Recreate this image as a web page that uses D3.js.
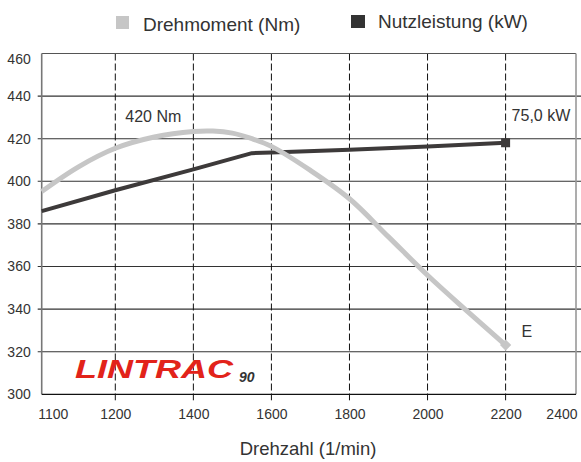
<!DOCTYPE html>
<html>
  <head>
    <meta charset="utf-8">
    <script src="https://cdn.jsdelivr.net/npm/d3@7"></script>
    <style>
      body { margin: 0; background: #fff; }
      svg { display: block; font-family: "Liberation Sans", Arial, Helvetica, sans-serif; }
      .tick text { fill: #333; font-size: 14px; }
      .domain { display: none; }
    </style>
  </head>
  <body>
    <div id="chart"></div>
    <script>
      // rpm values and curves
      var torqueRpm = [1100, 1150, 1200, 1300, 1400, 1450, 1500, 1550, 1600, 1700, 1800, 1900, 2000, 2100, 2200];
      var torqueNm  = [395.2, 406.8, 415.5, 420.8, 423.4, 423.6, 422.6, 420.0, 416.4, 405.1, 391.8, 373.9, 355.9, 339.3, 323.1];
      var powerRpm  = [1100, 1200, 1400, 1550, 1600, 1800, 2000, 2200];
      var powerVal  = [386.0, 395.8, 405.6, 413.2, 413.5, 414.8, 416.3, 418.1];
      var xTicks = [1100, 1200, 1400, 1600, 1800, 2000, 2200, 2400];
      var yTicks = [300, 320, 340, 360, 380, 400, 420, 440, 460];
      var seriesNames = ["Drehmoment (Nm)", "Nutzleistung (kW)"];

      var W = 581, H = 462;
      var svg = d3.select("#chart").append("svg").attr("width", W).attr("height", H);

      // the x axis is not even: 1100 and 2400 sit at the frame edges
      var x = d3.scaleLinear().domain([1100, 1200, 2200, 2400]).range([41.7, 115.3, 505.6, 576]);
      var y = d3.scaleLinear().domain([300, 460]).range([394.3, 53.5]);

      // horizontal grid, running out past the right frame
      svg.append("g").selectAll("line").data(yTicks.slice(1, -1)).enter().append("line")
        .attr("x1", 37.7).attr("x2", W)
        .attr("y1", function(d) { return y(d); }).attr("y2", function(d) { return y(d); })
        .attr("stroke", "#333").attr("stroke-width", 1.1);

      // vertical dashed grid
      svg.append("g").selectAll("line").data(xTicks.slice(1, -1)).enter().append("line")
        .attr("x1", function(d) { return x(d); }).attr("x2", function(d) { return x(d); })
        .attr("y1", y(460)).attr("y2", y(300) + 6)
        .attr("stroke", "#111").attr("stroke-width", 1)
        .attr("stroke-dasharray", "7,3");

      // frame
      svg.append("line").attr("x1", x(1100)).attr("x2", x(2400)).attr("y1", y(460)).attr("y2", y(460))
        .attr("stroke", "#555").attr("stroke-width", 1.2);
      svg.append("line").attr("x1", x(2400)).attr("x2", x(2400)).attr("y1", y(460)).attr("y2", y(300))
        .attr("stroke", "#999").attr("stroke-width", 1.6);
      svg.append("line").attr("x1", x(1100)).attr("x2", x(1100)).attr("y1", y(460)).attr("y2", y(300))
        .attr("stroke", "#777").attr("stroke-width", 1.6);
      svg.append("line").attr("x1", x(1100)).attr("x2", x(2400)).attr("y1", y(300)).attr("y2", y(300))
        .attr("stroke", "#111").attr("stroke-width", 1.3);

      // axes (labels only, lines drawn above)
      var xAxis = svg.append("g").attr("transform", "translate(0," + y(300) + ")")
        .call(d3.axisBottom(x).tickValues(xTicks).tickSize(0).tickPadding(15).tickFormat(d3.format("d")));
      xAxis.selectAll(".tick text")
        .attr("text-anchor", function(d) { return d == 1100 ? "start" : d == 2400 ? "end" : "middle"; })
        .attr("dx", function(d) { return d == 1100 ? -4 : d == 2400 ? 1 : 0; });

      var yAxis = svg.append("g").attr("transform", "translate(" + x(1100) + ",0)")
        .call(d3.axisLeft(y).tickValues(yTicks).tickSize(0).tickPadding(11).tickFormat(d3.format("d")));
      yAxis.selectAll(".tick text").filter(function(d) { return d == 460; }).attr("dy", "0.7em");

      // curves
      var powerLine = d3.line()
        .x(function(d, i) { return x(powerRpm[i]); })
        .y(function(d) { return y(d); });
      svg.append("path").datum(powerVal).attr("d", powerLine)
        .attr("fill", "none").attr("stroke", "#3d3a3a").attr("stroke-width", 4)
        .attr("stroke-linejoin", "round");
      svg.append("rect")
        .attr("x", x(powerRpm[powerRpm.length - 1]) - 4.5).attr("y", y(powerVal[powerVal.length - 1]) - 4.5)
        .attr("width", 9).attr("height", 9).attr("fill", "#3d3a3a");

      var torqueLine = d3.line()
        .x(function(d, i) { return x(torqueRpm[i]); })
        .y(function(d) { return y(d); })
        .curve(d3.curveCatmullRom.alpha(0.5));
      svg.append("path").datum(torqueNm).attr("d", torqueLine)
        .attr("fill", "none").attr("stroke", "#c6c6c6").attr("stroke-width", 5);
      var ex = x(torqueRpm[torqueRpm.length - 1]), ey = y(torqueNm[torqueNm.length - 1]);
      svg.append("rect").attr("x", -4).attr("y", -4).attr("width", 8).attr("height", 8)
        .attr("transform", "translate(" + ex + "," + ey + ") rotate(45)")
        .attr("fill", "#c6c6c6");

      // annotations
      svg.append("text").attr("x", x(1200) + 10).attr("y", y(420) - 17)
        .attr("font-size", 16).attr("fill", "#333").text("420 Nm");
      svg.append("text").attr("x", x(2200) + 6).attr("y", y(440) + 25)
        .attr("font-size", 16).attr("fill", "#333").text("75,0 kW");
      svg.append("text").attr("x", ex + 16).attr("y", ey - 8)
        .attr("font-size", 16).attr("fill", "#333").text("E");

      // logo
      svg.append("text").attr("x", 75).attr("y", 378)
        .attr("font-size", 25).attr("font-weight", "bold").attr("font-style", "italic")
        .attr("fill", "#e2231a").attr("textLength", 158).attr("lengthAdjust", "spacingAndGlyphs")
        .text("LINTRAC");
      svg.append("text").attr("x", 239).attr("y", 382)
        .attr("font-size", 14).attr("font-weight", "bold").attr("font-style", "italic")
        .attr("fill", "#333").text("90");

      // legend
      svg.append("rect").attr("x", 116).attr("y", 16).attr("width", 13).attr("height", 13).attr("fill", "#c6c6c6");
      svg.append("text").attr("x", 143).attr("y", 30.5).attr("font-size", 19).attr("fill", "#333").text(seriesNames[0]);
      svg.append("rect").attr("x", 351).attr("y", 15).attr("width", 14).attr("height", 13).attr("fill", "#333");
      svg.append("text").attr("x", 378).attr("y", 28.3).attr("font-size", 19).attr("fill", "#333").text(seriesNames[1]);

      // axis title
      svg.append("text").attr("x", 308).attr("y", 455).attr("text-anchor", "middle")
        .attr("font-size", 18.5).attr("fill", "#333").text("Drehzahl (1/min)");
    </script>
  </body>
</html>
